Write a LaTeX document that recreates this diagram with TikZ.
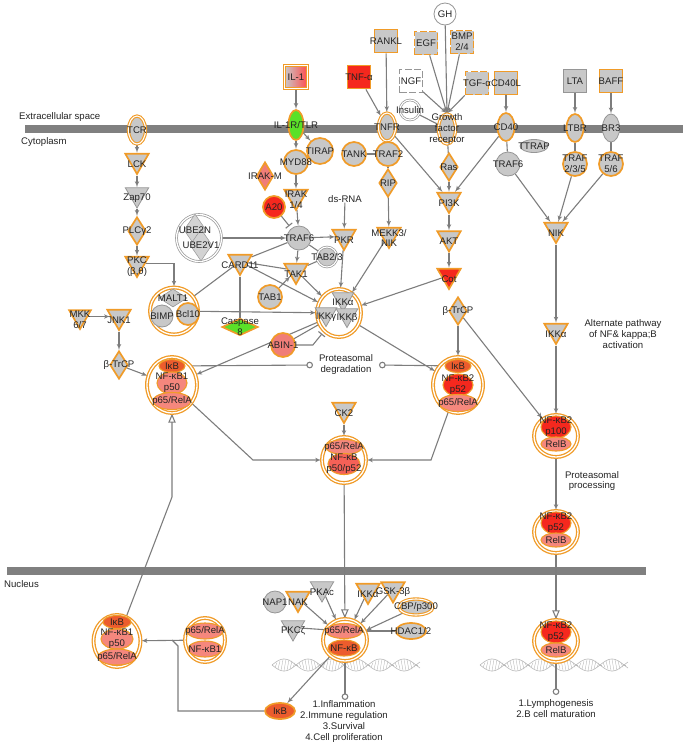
\documentclass[tikz,border=0pt]{standalone}
\usepackage{fontspec}
\setmainfont{Liberation Sans}
\usepackage{tikz}
\usetikzlibrary{arrows,shapes,backgrounds}

\definecolor{ipaorange}{RGB}{240,155,40}
\definecolor{molgray}{RGB}{200,200,200}
\definecolor{outgray}{RGB}{150,150,150}
\definecolor{edgegray}{RGB}{125,125,125}
\definecolor{membrane}{RGB}{128,128,128}
\definecolor{txtgray}{RGB}{35,35,35}
\definecolor{salmon}{RGB}{245,135,125}
\definecolor{ikbred}{RGB}{236,92,45}
\definecolor{hired}{RGB}{245,40,30}
\definecolor{litegreen}{RGB}{90,225,40}
\definecolor{pinkred}{RGB}{240,125,120}
\definecolor{dnagray}{RGB}{185,185,185}

\tikzstyle{mol} = [circle, draw=ipaorange, line width=1.7pt, fill=molgray,
    minimum size=24pt, inner sep=0pt]
\tikzstyle{grmol} = [mol, draw=outgray, line width=0.8pt]
\tikzstyle{kin} = [regular polygon, regular polygon sides=3, shape border rotate=180,
    draw=ipaorange, line width=1.7pt, fill=molgray, minimum size=27pt, inner sep=0pt]
\tikzstyle{grkin} = [kin, draw=outgray, line width=0.8pt]
\tikzstyle{dia} = [diamond, draw=ipaorange, line width=1.7pt, fill=molgray,
    minimum width=18pt, minimum height=28pt, inner sep=0pt]
\tikzstyle{rec} = [ellipse, draw=ipaorange, line width=1.7pt, fill=molgray,
    minimum width=17pt, minimum height=28pt, inner sep=0pt]
\tikzstyle{lig} = [rectangle, draw=ipaorange, line width=1.7pt, fill=molgray,
    minimum size=23pt, inner sep=0pt]
\tikzstyle{dashlig} = [lig, dash pattern=on 7pt off 2.5pt]
\tikzstyle{dbl} = [double=white, double distance=1.1pt, line width=1.1pt]
\tikzstyle{cplx} = [ellipse, draw=ipaorange, double=white, double distance=1.3pt,
    line width=1.3pt, fill=white, inner sep=0pt]
\tikzstyle{sub} = [ellipse, draw=ipaorange, line width=1.1pt, fill=salmon,
    minimum width=30pt, minimum height=14pt, inner sep=0pt]
\tikzstyle{txt} = [font=\fontsize{9.6}{10.8}\selectfont, text=txtgray, align=center, inner sep=0pt]
\tikzstyle{line} = [draw=edgegray, line width=1.1pt]
\tikzstyle{act} = [line, -latex']
\tikzstyle{inh} = [line, -|, shorten >=3pt]
\tikzstyle{transloc} = [line, -open triangle 45]
\tikzstyle{endcirc} = [line, -o]
\tikzstyle{dna} = [draw=dnagray, line width=0.6pt]
\tikzset{every label/.style={txt},
  klabel/.style={label={[yshift=-3.5pt]center:{#1}}}}

\begin{document}
\begin{tikzpicture}[x=1pt, y=-1pt]
  \useasboundingbox (0,0) rectangle (683,745);

  % compartments
  \node [txt, anchor=west] (extra) at (19,117) {Extracellular space};
  \node [txt, anchor=west] (cyto) at (21,142) {Cytoplasm};
  \node [txt, anchor=west] (nucl) at (4,584) {Nucleus};

  % ligands
  \node [lig, dbl, left color=molgray, right color=red!70, label=center:IL-1] (il1) at (296,77) {};
  \node [lig, fill=hired, label=center:TNF-α] (tnfa) at (359,77) {};
  \node [lig, label=center:RANKL] (rankl) at (386,41) {};
  \node [mol, draw=outgray, line width=0.8pt, fill=white, minimum size=22pt, label=center:GH] (gh) at (445,14) {};
  \node [dashlig, label=center:EGF] (egf) at (426,43) {};
  \node [dashlig, label={center:BMP\\2/4}] (bmp) at (462,42) {};
  \node [dashlig, draw=outgray, line width=0.8pt, fill=white, label=center:NGF] (ngf) at (411,81) {};
  \node [dashlig, label=center:TGF-α] (tgfa) at (477,83) {};
  \node [lig, label=center:CD40L] (cd40l) at (506,83) {};
  \node [lig, draw=outgray, line width=0.8pt, label=center:LTA] (lta) at (575,81) {};
  \node [lig, label=center:BAFF] (baff) at (611,81) {};
  \node [mol, draw=outgray, dbl, line width=0.7pt, fill=white, minimum size=20pt, label=center:Insulin] (ins) at (410,110) {};

  % receptors
  \node [rec, dbl, label=center:TCR] (tcr) at (137,130) {};
  \node [rec, fill=litegreen, minimum width=15pt, minimum height=30pt, label=center:IL-1R/TLR] (il1r) at (296,125) {};
  \node [rec, dbl, label=center:TNFR] (tnfr) at (387,127) {};
  \node [rec, dbl, minimum height=30pt, label={center:Growth\\factor\\receptor}] (gfr) at (447,129) {};
  \node [rec, label=center:CD40] (cd40) at (506,127) {};
  \node [rec, label=center:LTBR] (ltbr) at (575,128) {};
  \node [rec, draw=outgray, line width=0.8pt, label=center:BR3] (br3) at (611,128) {};

  % adaptors
  \node [mol, minimum size=26pt, label=center:TIRAP] (tirap) at (320,151) {};
  \node [mol, label=center:MYD88] (myd88) at (296,162) {};
  \node [mol, label=center:TANK] (tank) at (354,154) {};
  \node [mol, label=center:TRAF2] (traf2) at (388,154) {};
  \node [dia, label=center:RIP] (rip) at (388,183) {};
  \node [dia, label=center:Ras] (ras) at (449,167) {};
  \node [ellipse, draw=outgray, line width=0.8pt, fill=molgray, minimum width=28pt, minimum height=13pt,
    inner sep=0pt, label=center:TTRAP] (ttrap) at (534,146) {};
  \node [grmol, label=center:TRAF6] (traf6r) at (508,164) {};
  \node [mol, label={center:TRAF\\2/3/5}] (traf235) at (575,164) {};
  \node [mol, label={center:TRAF\\5/6}] (traf56) at (611,164) {};
  \node [dia, fill=pinkred, minimum width=17pt, label=center:IRAK-M] (irakm) at (265,176) {};
  \node [mol, fill=hired, minimum size=22pt, label=center:A20] (a20) at (274,207) {};
  \node [grmol, label=center:TRAF6] (traf6l) at (299,238) {};
  \node [grmol, dbl, draw=outgray, line width=0.7pt, minimum size=20pt, label={center:TAB2/3}] (tab23) at (327,257) {};
  \node [mol, label=center:TAB1] (tab1) at (270,297) {};
  \node [mol, fill=pinkred, label=center:ABIN-1] (abin) at (283,345) {};
  \node [dia, fill=litegreen, minimum width=36pt, minimum height=17pt, label={center:Caspase\\8}] (casp8) at (240,327) {};
  \node [dia, label=center:PLCγ2] (plc) at (137,231) {};
  \node [dia, label=center:β-TrCP] (btrcpl) at (119,365) {};
  \node [dia, label=center:β-TrCP] (btrcpr) at (458,311) {};

  % kinases
  \node [kin, klabel=LCK] (lck) at (137,160.5) {};
  \node [grkin, klabel=Zap70] (zap70) at (137,194.5) {};
  \node [kin, klabel={PKC\\(β,θ)}] (pkc) at (137,263.5) {};
  \node [kin, klabel={IRAK\\1/4}] (irak) at (296,196.5) {};
  \node [kin, klabel=CARD11] (card11) at (240,261.5) {};
  \node [kin, klabel=TAK1] (tak1) at (296,270.5) {};
  \node [kin, klabel=PKR] (pkr) at (344,236.5) {};
  \node [kin, klabel={MEKK3/\\NIK}] (mekk) at (389,234.5) {};
  \node [kin, klabel=PI3K] (pi3k) at (449,199.5) {};
  \node [kin, klabel=AKT] (akt) at (449,238) {};
  \node [kin, fill=hired, klabel=Cot] (cot) at (449,275.5) {};
  \node [kin, klabel=NIK] (nik) at (556,229.5) {};
  \node [kin, klabel=IKKα] (ikkar) at (556,330.5) {};
  \node [kin, klabel=CK2] (ck2) at (344,409.5) {};
  \node [kin, minimum size=25pt, klabel={MKK\\6/7}] (mkk67) at (80,316.5) {};
  \node [kin, klabel=JNK1] (jnk1) at (119,316.5) {};

  % E2 complex
  \node [cplx, draw=outgray, line width=0.7pt, minimum width=45pt, minimum height=47pt] (ube) at (199,238) {};
  \node [dia, draw=outgray, line width=0.5pt, fill=molgray!80, minimum width=22pt, minimum height=32pt] (ube2n) at (195,230) {};
  \node [dia, draw=outgray, line width=0.5pt, fill=molgray!80, minimum width=22pt, minimum height=32pt,
    label=center:UBE2V1, label={[xshift=-6pt, yshift=15pt]center:UBE2N}] (ube2v1) at (201,245) {};

  % CBM complex
  \node [cplx, minimum width=48pt, minimum height=47pt] (maltc) at (174,311) {};
  \node [dia, draw=outgray, line width=0.6pt, minimum width=28pt, minimum height=18pt, label=center:MALT1] (malt1) at (173,298) {};
  \node [grmol, minimum size=22pt, label=center:BIMP] (bimp) at (162,316) {};
  \node [mol, minimum size=22pt, label=center:Bcl10] (bcl10) at (188,314) {};

  % IKK complex
  \node [cplx, minimum width=44pt, minimum height=48pt] (ikkc) at (339,313) {};
  \node [grkin, minimum size=25pt, klabel=IKKα] (ikka) at (343,299) {};
  \node [grkin, minimum size=25pt, klabel=IKKγ] (ikkg) at (326,314) {};
  \node [grkin, minimum size=25pt, klabel=IKKβ] (ikkb) at (347,315) {};

  % NF-kB complexes in the cytoplasm
  \node [cplx, minimum width=50pt, minimum height=56pt] (lcx) at (172,385) {};
  \node [sub, fill=ikbred, minimum width=26pt, minimum height=13pt, label=center:IκB] (ikb1) at (172,366) {};
  \node [sub, minimum width=30pt, minimum height=22pt, label={center:NF-κB1\\p50}] (nfkb1) at (172,383) {};
  \node [sub, minimum width=38pt, minimum height=17pt, label=center:p65/RelA] (rela1) at (172,401) {};

  \node [cplx, minimum width=50pt, minimum height=56pt] (rcx) at (458,385) {};
  \node [sub, fill=ikbred, minimum width=26pt, minimum height=13pt, label=center:IκB] (ikb2) at (458,366) {};
  \node [sub, fill=hired, minimum width=30pt, minimum height=22pt, label={center:NF-κB2\\p52}] (nfkb2) at (458,385) {};
  \node [sub, minimum width=38pt, minimum height=17pt, label=center:p65/RelA] (rela2) at (458,403) {};

  \node [cplx, minimum width=44pt, minimum height=46pt] (mcx) at (344,460) {};
  \node [sub, minimum width=36pt, minimum height=15pt, label=center:p65/RelA] (relam) at (344,447) {};
  \node [sub, fill=salmon!60!hired, minimum width=32pt, minimum height=21pt, label={center:NF-κB\\p50/p52}] (nfkbm) at (344,464) {};

  \node [cplx, minimum width=44pt, minimum height=42pt] (p100c) at (556,436) {};
  \node [sub, fill=hired, minimum width=30pt, minimum height=22pt, label={center:NF-κB2\\p100}] (nfp100) at (556,427) {};
  \node [sub, minimum width=30pt, minimum height=14pt, label=center:RelB] (relba) at (556,444) {};

  \node [cplx, minimum width=44pt, minimum height=42pt] (p52c) at (556,532) {};
  \node [sub, fill=hired, minimum width=30pt, minimum height=22pt, label={center:NF-κB2\\p52}] (nfp52) at (556,523) {};
  \node [sub, minimum width=30pt, minimum height=14pt, label=center:RelB] (relbb) at (556,540) {};

  % nucleus
  \node [cplx, minimum width=47pt, minimum height=52pt] (lncx) at (117,641) {};
  \node [sub, fill=ikbred, minimum width=28pt, minimum height=13pt, label=center:IκB] (ikb3) at (117,622) {};
  \node [sub, minimum width=32pt, minimum height=20pt, label={center:NF-κB1\\p50}] (nfkb3) at (117,639) {};
  \node [sub, minimum width=38pt, minimum height=16pt, label=center:p65/RelA] (rela3) at (117,657) {};

  \node [cplx, minimum width=40pt, minimum height=44pt] (p65n1c) at (205,640) {};
  \node [sub, minimum width=36pt, minimum height=16pt, label=center:p65/RelA] (rela4) at (205,631) {};
  \node [sub, minimum width=34pt, minimum height=16pt, label=center:NF-κB1] (nfkb4) at (205,649) {};

  \node [cplx, minimum width=44pt, minimum height=42pt] (p65nc) at (345,640) {};
  \node [sub, minimum width=36pt, minimum height=15pt, label=center:p65/RelA] (rela5) at (344,631) {};
  \node [sub, fill=ikbred, minimum width=32pt, minimum height=16pt, label=center:NF-κB] (nfkb5) at (344,648) {};

  \node [cplx, minimum width=44pt, minimum height=42pt] (nfp52n) at (556,641) {};
  \node [sub, fill=hired, minimum width=30pt, minimum height=22pt, label={center:NF-κB2\\p52}] (nfp52b) at (556,632) {};
  \node [sub, minimum width=30pt, minimum height=14pt, label=center:RelB] (relbc) at (556,650) {};

  \node [sub, fill=ikbred, line width=1.7pt, minimum width=30pt, minimum height=16pt, label=center:IκB] (ikbn) at (280,711) {};
  \node [grmol, minimum size=22pt, label=center:NAP1] (nap1) at (275,602) {};
  \node [kin, klabel=NAK] (nak) at (298,598.5) {};
  \node [grkin, klabel=PKAc] (pkac) at (322,588.5) {};
  \node [grkin, klabel=PKCζ] (pkcz) at (293,627.5) {};
  \node [kin, klabel=IKKα] (ikkan) at (368,590.5) {};
  \node [kin, klabel=GSK-3β] (gsk) at (393,589) {};
  \node [ellipse, draw=ipaorange, dbl, fill=molgray, minimum width=34pt, minimum height=16pt, inner sep=0pt,
    label=center:CBP/p300] (cbp) at (416,607) {};
  \node [ellipse, draw=ipaorange, line width=1.7pt, fill=molgray, minimum width=30pt, minimum height=16pt, inner sep=0pt,
    label=center:HDAC1/2] (hdac) at (411,631) {};

  % free text
  \node [txt] (dsrna) at (345,199) {ds-RNA};
  \node [txt] (degtxt) at (346,364.5) {Proteasomal\\degradation};
  \node [txt] (proctxt) at (592,481) {Proteasomal\\processing};
  \node [txt] (altpath) at (623,334) {Alternate pathway\\of NF\& kappa;B\\activation};
  \node [txt] (outinf) at (344,721.5) {1.Inflammation\\2.Immune regulation\\3.Survival\\4.Cell proliferation};
  \node [txt] (outlym) at (556,708.5) {1.Lymphogenesis\\2.B cell maturation};

  \coordinate (degl) at (313,365);
  \coordinate (degr) at (379,365);
  \coordinate (benda) at (253,460);
  \coordinate (bendb) at (431,460);
  \coordinate (upbend) at (172,497);
  \coordinate (jn) at (178,646);
  \coordinate (jn2) at (172,640);
  \coordinate (outa) at (345,700);
  \coordinate (outb) at (556,695);

  \begin{scope}[on background layer]
    % membranes
    \fill [membrane] (25,125) rectangle (683,133);
    \fill [membrane] (7,567) rectangle (646,575);
    % DNA
    \draw [dna] plot[domain=272:420, samples=120] (\x, {665+6*sin((\x-272)*7.5)});
    \draw [dna] plot[domain=272:420, samples=120] (\x, {665-6*sin((\x-272)*7.5)});
    \foreach \t in {275,278,...,418}
      \draw [dna, line width=0.4pt] (\t, {665+6*sin((\t-272)*7.5)}) -- (\t+2, {665-6*sin((\t-272)*7.5)});
    \draw [dna] plot[domain=480:628, samples=120] (\x, {665+6*sin((\x-480)*7.5)});
    \draw [dna] plot[domain=480:628, samples=120] (\x, {665-6*sin((\x-480)*7.5)});
    \foreach \t in {483,486,...,626}
      \draw [dna, line width=0.4pt] (\t, {665+6*sin((\t-480)*7.5)}) -- (\t+2, {665-6*sin((\t-480)*7.5)});

    % IL-1 / TLR branch
    \draw [act] (il1) -- (il1r);
    \draw [act] (il1r) -- (myd88);
    \draw [act] (il1r) -- (tirap);
    \draw [act] (myd88) -- (irak);
    \draw [act] (irak) -- (traf6l);
    \draw [inh] (a20) -- (traf6l);
    \draw [act] (ube) -- (traf6l);
    \draw [act] (traf6l) -- (pkr);
    \draw [act] (traf6l) -- (tak1);
    \draw [line] (traf6l) -- (tab23);
    \draw [line] (tab23) -- (tak1);
    \draw [line] (card11) -- (traf6l);
    \draw [line] (card11) -- (tak1);
    \draw [act] (card11) -- (ikkc);
    \draw [line] (card11) -- (casp8);
    \draw [line] (maltc) -- (card11);
    \draw [act] (maltc) -- (ikkc);
    \draw [act] (tak1) -- (ikkc);
    \draw [act] (tab1) -- (tak1);
    \draw [act] (dsrna) -- (pkr);
    \draw [act] (pkr) -- (ikkc);
    \draw [act] (mekk) -- (ikkc);
    \draw [act] (cot) -- (ikkc);
    \draw [line] (abin) -- (ikkc);
    \draw [inh] (abin.east) -- ++(17,0) -- (ikkc);
    \draw [act] (ikkc) -- (lcx);
    \draw [act] (ikkc) -- (rcx);

    % TCR branch
    \draw [act] (tcr) -- (lck);
    \draw [act] (lck) -- (zap70);
    \draw [act] (zap70) -- (plc);
    \draw [act] (plc) -- (pkc);
    \draw [act] (pkc) -| (maltc);
    \draw [act] (mkk67) -- (jnk1);
    \draw [act] (jnk1) -- (btrcpl);
    \draw [act] (btrcpl) -- (lcx);

    % TNF and growth factors
    \draw [act] (tnfa) -- (tnfr);
    \draw [act] (rankl) -- (tnfr);
    \draw [line] (tnfr) -- (traf2);
    \draw [line] (tank) -- (traf2);
    \draw [line] (traf2) -- (rip);
    \draw [act] (rip) -- (mekk);
    \draw [act] (tnfr) -- (pi3k);
    \draw [act] (egf) -- (gfr.north);
    \draw [act] (gh) -- (gfr.north);
    \draw [act] (bmp) -- (gfr.north);
    \draw [act] (tgfa) -- (gfr.north);
    \draw [act] (ngf) -- (gfr.north);
    \draw [line] (ins) -- (gfr);
    \draw [line] (gfr) -- (ras);
    \draw [act] (ras) -- (pi3k);
    \draw [act] (pi3k) -- (akt);
    \draw [act] (akt) -- (cot);

    % alternate pathway
    \draw [act] (cd40l) -- (cd40);
    \draw [act] (cd40) -- (pi3k);
    \draw [line] (cd40) -- (traf6r);
    \draw [act] (traf6r) -- (nik);
    \draw [act] (lta) -- (ltbr);
    \draw [line] (ltbr) -- (traf235);
    \draw [act] (traf235) -- (nik);
    \draw [act] (baff) -- (br3);
    \draw [line] (br3) -- (traf56);
    \draw [act] (traf56) -- (nik);
    \draw [act] (nik) -- (ikkar);
    \draw [act] (ikkar) -- (p100c);
    \draw [act] (btrcpr) -- (rcx);
    \draw [act] (btrcpr) -- (p100c);
    \draw [act] (p100c) -- (p52c);
    \draw [transloc] (p52c) -- (nfp52n);
    \draw [endcirc] (nfp52n) -- (outb);

    % degradation and release
    \draw [endcirc] (ikb1) -- (degl);
    \draw [endcirc] (ikb2) -- (degr);
    \draw [act] (lcx) -- (benda) -- (mcx);
    \draw [act] (rcx) -- (bendb) -- (mcx);
    \draw [act] (ck2) -- (mcx);
    \draw [transloc] (mcx) -- (p65nc);

    % nuclear events
    \draw [act] (nak) -- (p65nc);
    \draw [act] (pkac) -- (p65nc);
    \draw [act] (ikkan) -- (p65nc);
    \draw [act] (gsk) -- (p65nc);
    \draw [act] (cbp) -- (p65nc);
    \draw [line] (hdac) -- (rela5);
    \draw [line] (pkcz) -- (rela5);
    \draw [act] (p65nc) -- (ikbn);
    \draw [endcirc] (p65nc) -- (outa);
    \draw [act] (p65n1c) -- (lncx);
    \draw [line] (ikbn) -| (jn) -- (jn2);
    \draw [transloc] (lncx) -- (upbend) -- (lcx);
  \end{scope}
\end{tikzpicture}
\end{document}
